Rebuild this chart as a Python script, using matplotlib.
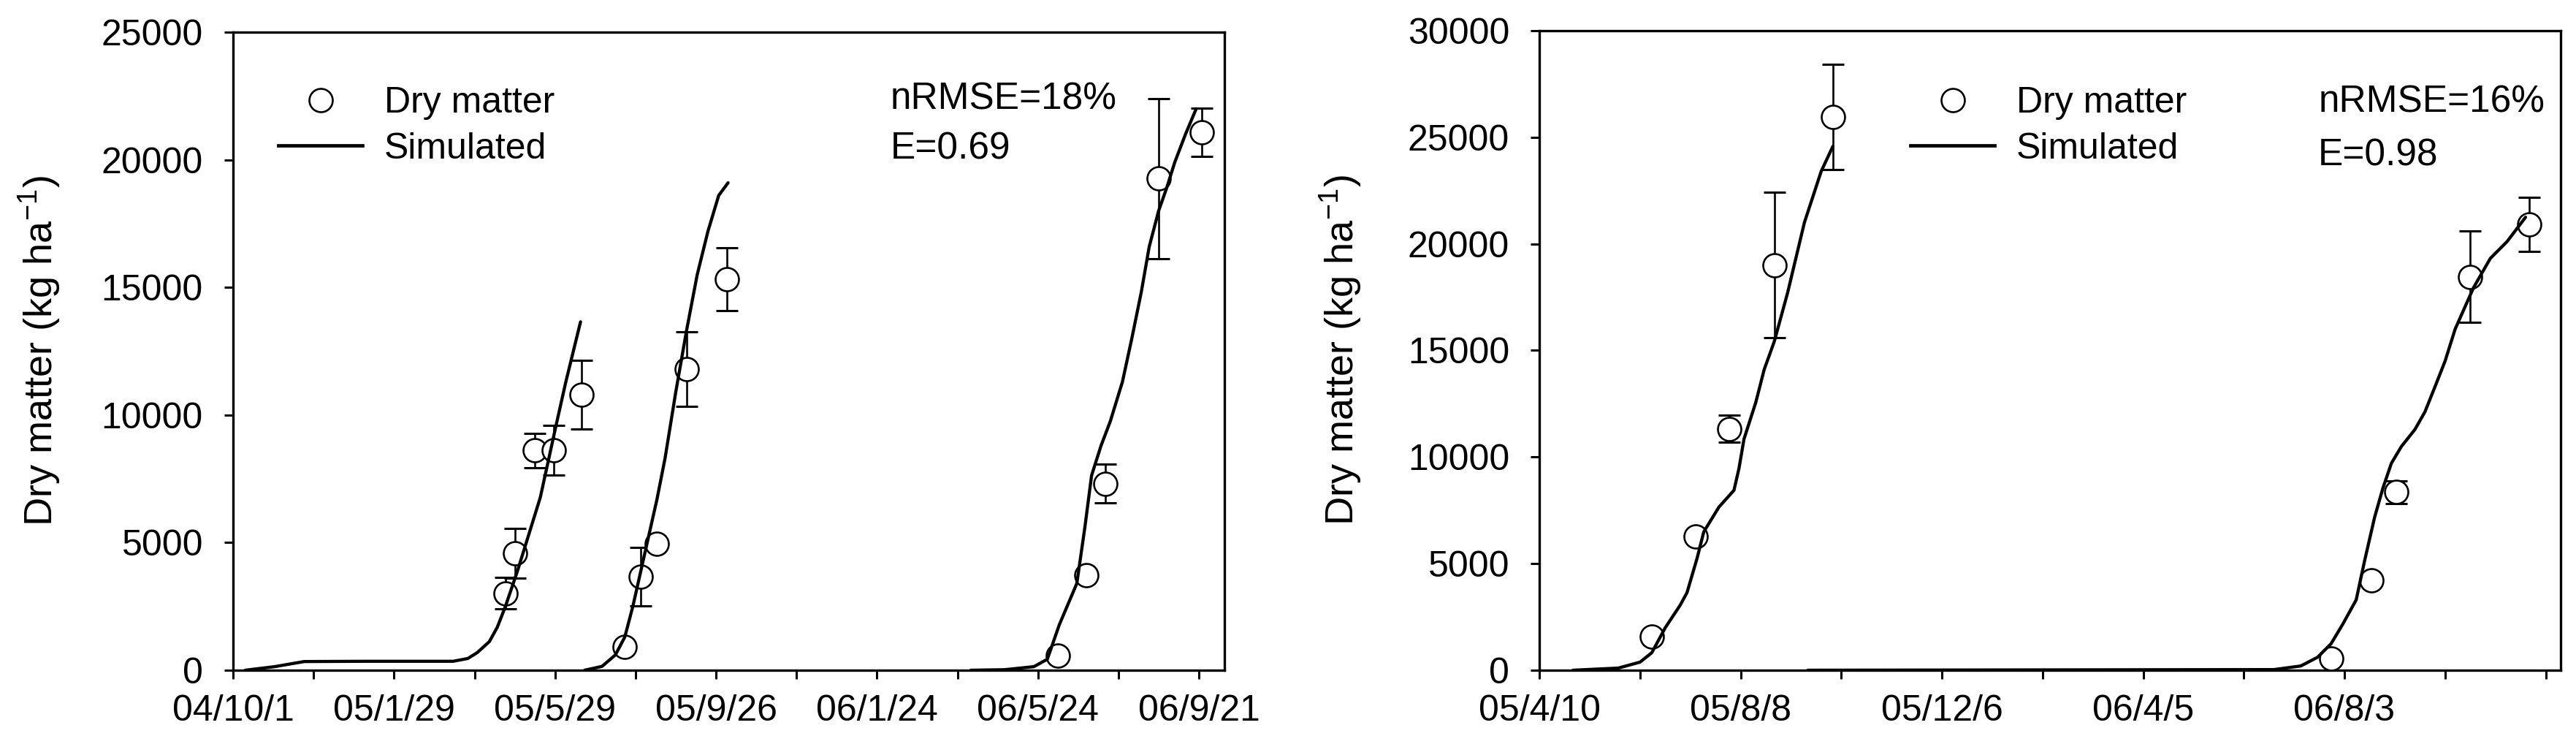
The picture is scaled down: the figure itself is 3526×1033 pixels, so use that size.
import datetime as dt
import numpy as np
import matplotlib
matplotlib.use("Agg")
import matplotlib.pyplot as plt
from matplotlib.lines import Line2D

plt.rcParams['font.family'] = ['Liberation Sans', 'DejaVu Sans']
plt.rcParams['mathtext.default'] = 'regular'

# ---------------------------------------
# Left panel data (x = days after 2004/10/1)
# ---------------------------------------
left_start = dt.date(2004, 10, 1)

left_sim1_day = [9, 31, 53, 100, 164, 175, 182, 191, 197, 203, 212, 229, 241, 248, 259]
left_sim1_dm = [0, 140, 340, 350, 350, 460, 690, 1120, 1690, 2500, 3890, 6770, 9650, 11290, 13650]

left_sim2_day = [262, 275, 285, 292, 298, 304, 310, 316, 322, 330, 338, 346, 354, 362, 369]
left_sim2_dm = [0, 150, 600, 1300, 2500, 3900, 5300, 6700, 8300, 10900, 13300, 15500, 17200, 18600, 19100]

left_sim3_day = [550, 575, 597, 607, 616, 629, 635, 640, 647, 654, 663, 670, 677, 683, 690, 696, 702, 710, 718]
left_sim3_dm = [0, 20, 140, 430, 1790, 3400, 5600, 7630, 8790, 9760, 11300, 13000, 14800, 16600, 18000, 18900, 19900, 21000, 22000]

left_obs_day = [203, 210, 225, 239, 260, 292, 304, 316, 338, 368, 615, 636, 650, 690, 722]
left_obs_dm = [3020, 4580, 8610, 8610, 10800, 920, 3660, 4950, 11800, 15320, 580, 3710, 7310, 19260, 21080]
left_obs_err = [620, 980, 680, 970, 1350, 0, 1150, 0, 1450, 1220, 0, 0, 760, 3130, 950]

left_stats = ["nRMSE=18%", "E=0.69"]

# ---------------------------------------
# Right panel data (x = days after 2005/4/10)
# ---------------------------------------
right_start = dt.date(2005, 4, 10)

right_sim1_day = [20, 47, 60, 67, 75, 84, 88, 94, 98, 107, 116, 119, 122, 129, 134, 140, 148, 158, 168, 175]
right_sim1_dm = [0, 100, 380, 820, 1990, 3060, 3640, 5250, 6490, 7650, 8440, 9470, 10850, 12560, 14100, 15410, 17710, 21000, 23400, 24580]

right_sim2_day = [160, 438, 454, 464, 472, 479, 487, 492, 498, 503, 508, 514, 522, 528, 534, 540, 546, 557, 567, 577, 588]
right_sim2_dm = [0, 30, 200, 610, 1240, 2160, 3300, 5130, 7180, 8560, 9710, 10500, 11290, 12120, 13300, 14500, 16000, 17950, 19320, 20110, 21250]

right_obs_day = [67, 93, 113, 140, 175, 472, 496, 511, 555, 590]
right_obs_dm = [1580, 6280, 11330, 19010, 25950, 550, 4220, 8350, 18460, 20900]
right_obs_err = [0, 0, 650, 3400, 2470, 0, 0, 530, 2150, 1270]

right_stats = ["nRMSE=16%", "E=0.98"]

FS = 36


def date_label(start, days):
    d = start + dt.timedelta(days=int(days))
    return f"{d.year % 100:02d}/{d.month}/{d.day}"


def draw_panel(ax, start, n_ticks, n_labels, xmax, ymax, sims, obs_day, obs_dm,
               obs_err, stats, legend_xy, stats_xy):
    ticks = np.arange(n_ticks) * 60
    # every second tick carries a date, the last one may stay blank
    labels = [date_label(start, t) if (i % 2 == 0 and i // 2 < n_labels) else ""
              for i, t in enumerate(ticks)]

    # observations: error bars, then white circles
    day = np.array(obs_day, dtype=float)
    dm = np.array(obs_dm, dtype=float)
    err = np.array(obs_err, dtype=float)
    has_err = err > 0
    ax.errorbar(day[has_err], dm[has_err], yerr=err[has_err], fmt='none',
                ecolor='black', elinewidth=1.9, capsize=10.5, capthick=2.2, zorder=2)
    ax.plot(day, dm, 'o', ms=23, mfc='white', mec='black', mew=1.9, zorder=3)

    # simulated curves
    for sd, sv in sims:
        ax.plot(sd, sv, color='black', lw=3.1, zorder=4, solid_capstyle='round')

    ax.set_xlim(0, xmax)
    ax.set_ylim(0, ymax)
    ax.set_xticks(ticks)
    ax.set_xticklabels(labels)
    ax.set_yticks(np.arange(0, ymax + 1, 5000))
    ax.tick_params(direction='out', length=8.6, width=2.2, labelsize=FS)
    ax.tick_params(axis='x', pad=15)
    ax.tick_params(axis='y', pad=21)
    for sp in ax.spines.values():
        sp.set_linewidth(2.4)

    ax.set_ylabel("Dry matter (kg ha$^{-1}$)", fontsize=39)
    ax.yaxis.set_label_coords(-0.172, 0.5)

    handles = [
        Line2D([], [], ls='none', marker='o', ms=23, mfc='white', mec='black', mew=1.9),
        Line2D([], [], color='black', lw=3.4),
    ]
    ax.legend(handles, ["Dry matter", "Simulated"], loc='upper left',
              bbox_to_anchor=legend_xy, frameon=False, fontsize=FS,
              handlelength=2.3, handletextpad=0.6, labelspacing=0.33,
              borderpad=0, borderaxespad=0)

    ax.text(stats_xy[0], stats_xy[1], stats[0], transform=ax.transAxes,
            fontsize=37, va='baseline')
    ax.text(stats_xy[0], stats_xy[2], stats[1], transform=ax.transAxes,
            fontsize=37, va='baseline')


fig = plt.figure(figsize=(35.26, 10.33), dpi=100)
ax_left = fig.add_axes([0.0905, 0.1123, 0.3848, 0.8451])
ax_right = fig.add_axes([0.5976, 0.1123, 0.3965, 0.8471])

draw_panel(ax_left, left_start, 13, 7, 739, 25000,
           [(left_sim1_day, left_sim1_dm), (left_sim2_day, left_sim2_dm),
            (left_sim3_day, left_sim3_dm)],
           left_obs_day, left_obs_dm, left_obs_err, left_stats,
           (0.0457, 0.915), (0.663, 0.879, 0.801))

draw_panel(ax_right, right_start, 11, 5, 609, 30000,
           [(right_sim1_day, right_sim1_dm), (right_sim2_day, right_sim2_dm)],
           right_obs_day, right_obs_dm, right_obs_err, right_stats,
           (0.3634, 0.913), (0.7625, 0.872, 0.789))

fig.savefig("out.png", dpi=100, facecolor='white')
